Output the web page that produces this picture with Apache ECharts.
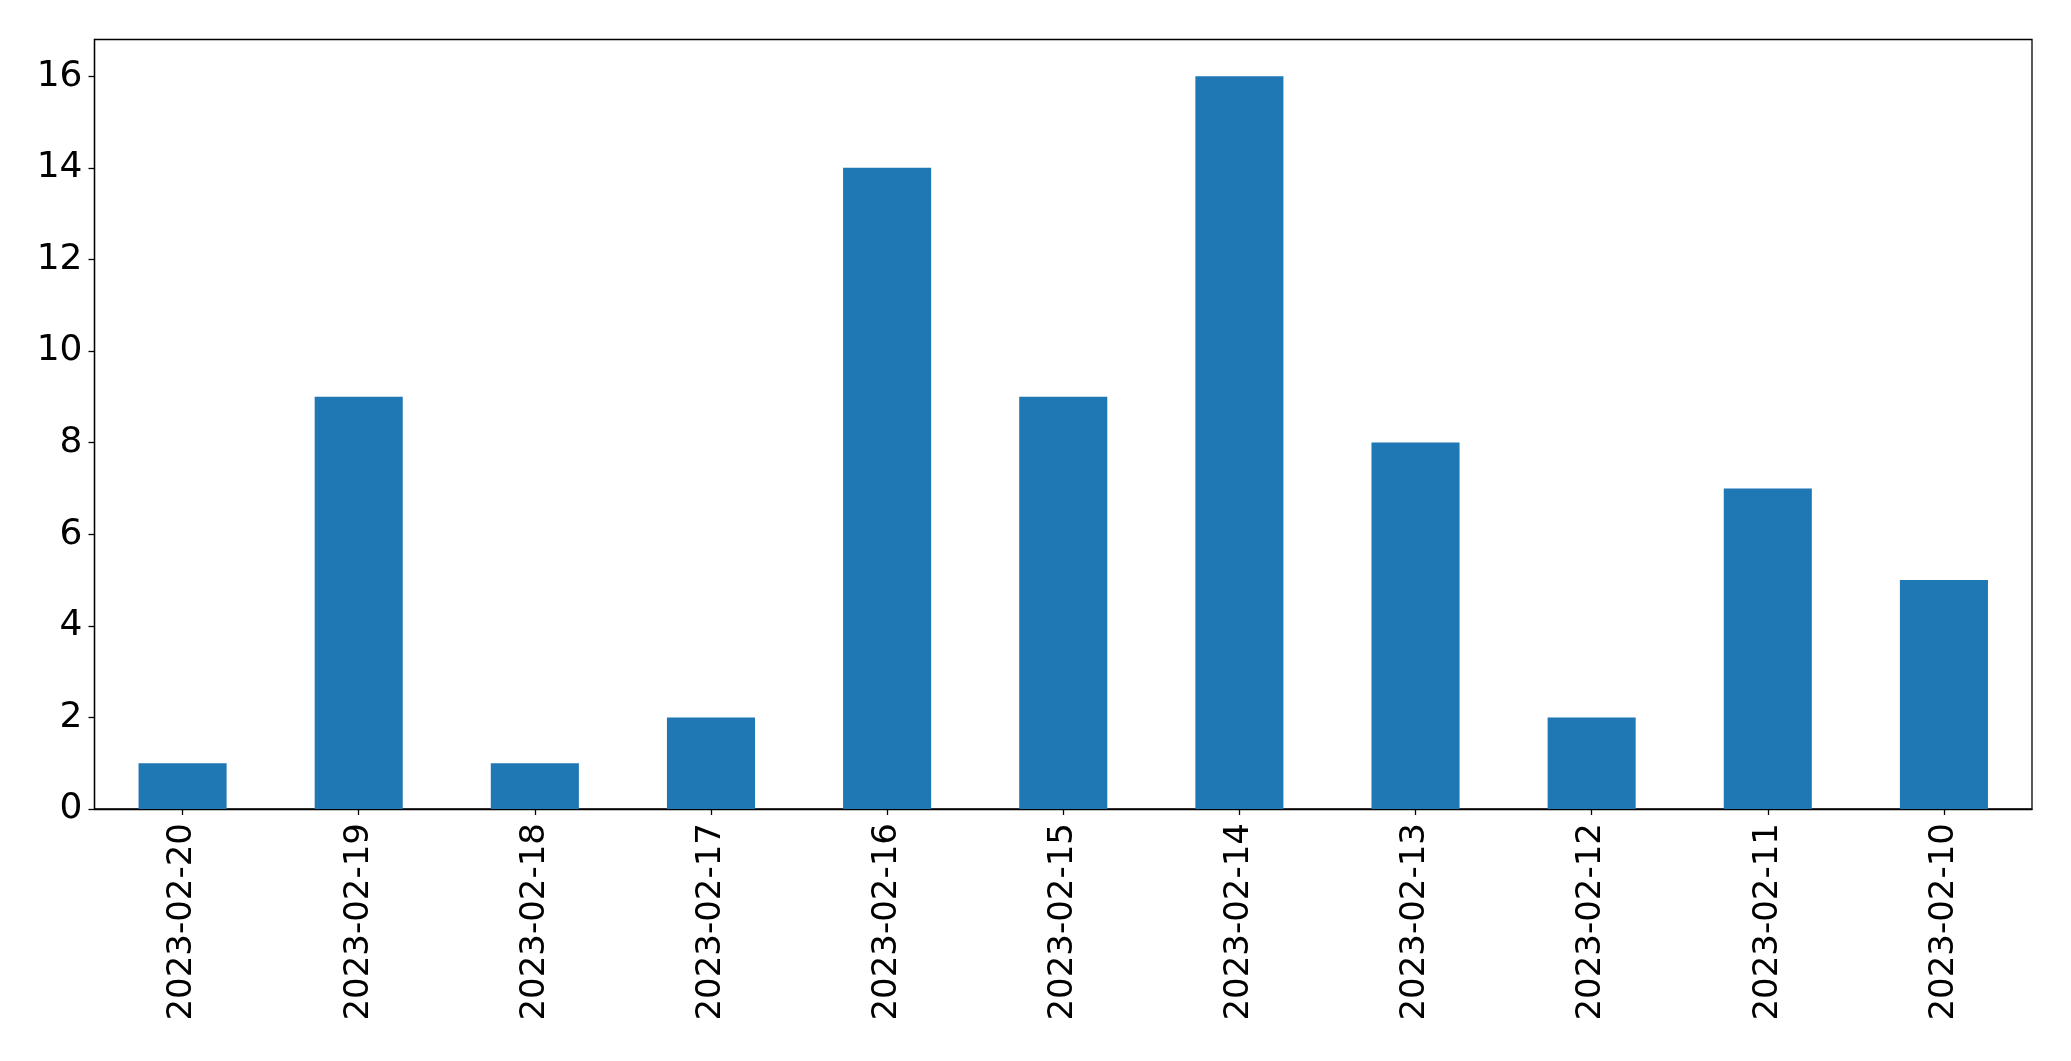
<!DOCTYPE html>
<html>
<head>
<meta charset="utf-8">
<script src="https://cdn.jsdelivr.net/npm/echarts@6/dist/echarts.min.js"></script>
<style>
html,body{margin:0;padding:0;background:#fff;}
#chart{width:2071px;height:1061px;}
</style>
</head>
<body>
<div id="chart"></div>
<script>
const categories = ["2023-02-20","2023-02-19","2023-02-18","2023-02-17","2023-02-16","2023-02-15","2023-02-14","2023-02-13","2023-02-12","2023-02-11","2023-02-10"];
const counts = [1, 9, 1, 2, 14, 9, 16, 8, 2, 7, 5];

const chart = echarts.init(document.getElementById('chart'), null, {renderer: 'canvas'});
const font = 'DejaVu Sans';
chart.setOption({
  animation: false,
  backgroundColor: '#ffffff',
  grid: {
    left: 94.5, right: 39, top: 39.5, bottom: 252,
    show: true, borderColor: '#000', borderWidth: 1.3, backgroundColor: 'transparent'
  },
  xAxis: {
    type: 'category',
    data: categories,
    boundaryGap: true,
    axisLine: {show: true, lineStyle: {color: '#000', width: 1.3}},
    axisTick: {show: true, alignWithLabel: true, length: 6, lineStyle: {color: '#000', width: 1.3}},
    axisLabel: {rotate: 90, fontFamily: font, fontSize: 34, color: '#000', margin: 14, interval: 0}
  },
  yAxis: {
    type: 'value',
    min: 0, max: 16.8, interval: 2,
    splitLine: {show: false},
    axisLine: {show: true, lineStyle: {color: '#000', width: 1.3}},
    axisTick: {show: true, length: 6, lineStyle: {color: '#000', width: 1.3}},
    axisLabel: {fontFamily: font, fontSize: 36, color: '#000', margin: 12, showMaxLabel: false,
      formatter: function (v) { return (Math.abs(v % 2) < 1e-9) ? String(v) : ''; }}
  },
  series: [{
    type: 'bar',
    data: counts,
    barWidth: '50%',
    itemStyle: {color: '#1f77b4'}
  }]
});
</script>
</body>
</html>
